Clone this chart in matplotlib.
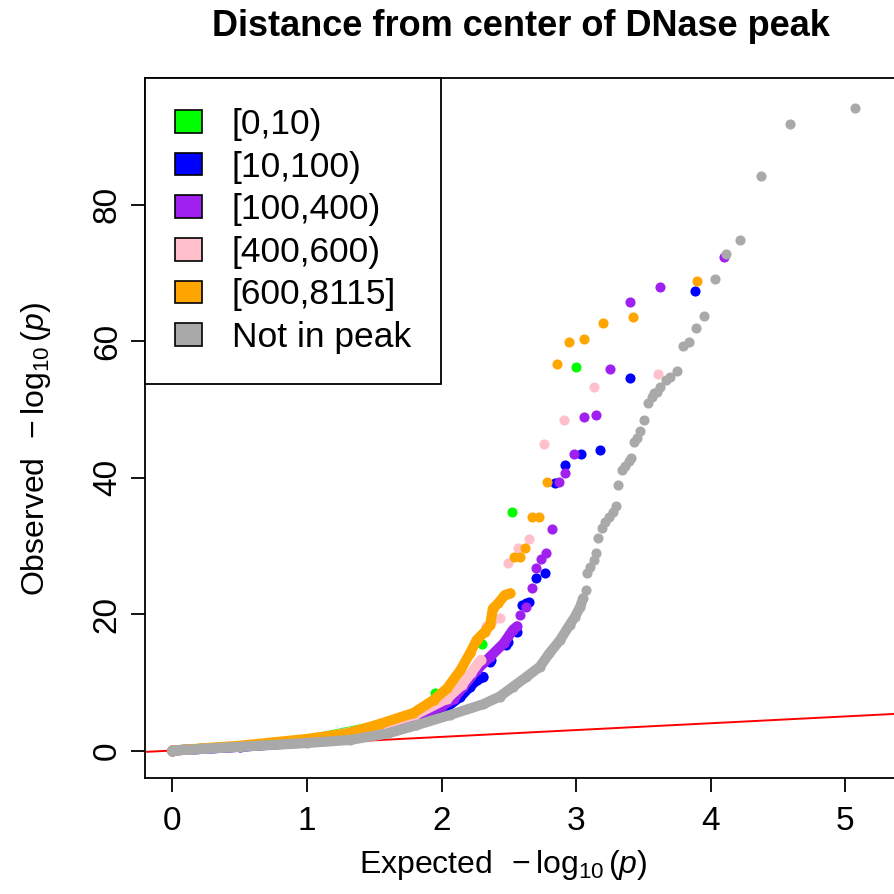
"""QQ plot of association p-values, split by distance from the centre of the DNase peak."""
import matplotlib
matplotlib.use("Agg")
import matplotlib.pyplot as plt
from matplotlib.patches import Patch

plt.rcParams["font.family"] = ["Liberation Sans", "DejaVu Sans"]
plt.rcParams["mathtext.fontset"] = "custom"
plt.rcParams["mathtext.rm"] = "Liberation Sans"
plt.rcParams["mathtext.it"] = "Liberation Sans:italic"

LABELS = ["[0,10)", "[10,100)", "[100,400)", "[400,600)", "[600,8115]", "Not in peak"]
COLORS = ["#00FF00", "#0000FF", "#A020F0", "#FFC0CB", "#FFA500", "#A9A9A9"]

# dense part of each curve (drawn as a band), then the sparse tail points
GREEN_BODY_X = [0.0, 0.5, 1.0, 1.5, 1.8]
GREEN_BODY_Y = [0.0, 0.6, 1.5, 3.5, 5.3]
GREEN_DOTS_X = [1.95, 2.30, 2.52, 3.0]
GREEN_DOTS_Y = [8.4, 15.6, 34.9, 56.3]

BLUE_BODY_X = [0.0, 0.5, 1.0, 1.5, 1.79, 1.91, 2.04, 2.14, 2.21, 2.26, 2.31]
BLUE_BODY_Y = [0.0, 0.55, 1.2, 2.7, 4.5, 5.45, 6.4, 7.9, 9.35, 10.3, 10.8]
BLUE_DOTS_X = [2.36, 2.37, 2.48, 2.49, 2.56, 2.60, 2.63, 2.65, 2.70, 2.765,
               2.84, 2.92, 3.035, 3.18, 3.40, 3.88]
BLUE_DOTS_Y = [13.0, 13.3, 15.5, 15.95, 17.4, 21.3, 21.6, 21.8, 25.3, 26.0,
               39.2, 41.9, 43.5, 44.1, 54.6, 67.3]

PURPLE_BODY_X = [0.0, 0.5, 1.0, 1.5, 1.8, 2.0, 2.09, 2.16, 2.26, 2.36, 2.46, 2.53, 2.56]
PURPLE_BODY_Y = [0.0, 0.55, 1.3, 3.0, 4.9, 6.5, 7.6, 9.35, 11.8, 13.75, 15.7, 17.7, 18.2]
PURPLE_DOTS_X = [2.58, 2.63, 2.67, 2.70, 2.74, 2.775, 2.82, 2.87, 2.92, 2.98,
                 3.055, 3.145, 3.25, 3.40, 3.62, 4.10]
PURPLE_DOTS_Y = [19.9, 21.1, 23.8, 26.8, 28.1, 29.0, 32.5, 39.3, 40.7, 43.4,
                 48.95, 49.15, 55.9, 65.8, 67.9, 72.4]

PINK_BODY_X = [0.0, 0.5, 1.0, 1.5, 1.8, 2.04, 2.15, 2.22, 2.29]
PINK_BODY_Y = [0.0, 0.6, 1.4, 3.4, 5.2, 7.6, 9.6, 11.4, 13.3]
PINK_DOTS_X = [2.33, 2.38, 2.43, 2.49, 2.565, 2.65, 2.76, 2.91, 3.13, 3.61]
PINK_DOTS_Y = [18.2, 19.2, 19.4, 27.5, 29.7, 31.0, 44.9, 48.4, 53.3, 55.2]

ORANGE_BODY_X = [0.0, 0.5, 1.0, 1.3, 1.54, 1.79, 1.94, 2.04, 2.14, 2.21, 2.26,
                 2.32, 2.36, 2.38, 2.42, 2.47, 2.51]
ORANGE_BODY_Y = [0.0, 0.7, 1.7, 2.5, 3.9, 5.5, 7.4, 9.1, 11.8, 14.25, 16.2,
                 17.4, 18.4, 20.8, 21.6, 22.8, 23.05]
ORANGE_DOTS_X = [2.54, 2.58, 2.62, 2.67, 2.725, 2.785, 2.86, 2.946, 3.055, 3.20, 3.42, 3.90]
ORANGE_DOTS_Y = [28.3, 28.4, 29.7, 34.2, 34.2, 39.4, 56.7, 59.85, 60.4, 62.7, 63.5, 68.8]

GRAY_BODY_X = [0.0, 0.5, 1.0, 1.32, 1.6, 1.81, 2.06, 2.31, 2.43, 2.53, 2.63,
               2.73, 2.80, 2.88, 2.95, 2.99, 3.03, 3.05]
GRAY_BODY_Y = [0.0, 0.55, 1.1, 1.55, 2.5, 3.7, 5.2, 6.8, 7.9, 9.35, 10.8,
               12.3, 14.25, 16.2, 18.4, 19.6, 21.1, 22.3]
GRAY_DOTS_X = [3.07, 3.08, 3.10, 3.13, 3.15, 3.165, 3.19, 3.21, 3.245, 3.27,
               3.295, 3.31, 3.34, 3.36, 3.395, 3.41, 3.43, 3.45, 3.475, 3.50,
               3.535, 3.565, 3.58, 3.60, 3.62, 3.67, 3.70, 3.75, 3.79, 3.835,
               3.89, 3.95, 4.03, 4.11, 4.22, 4.37, 4.59, 5.07]
GRAY_DOTS_Y = [23.6, 26.0, 26.95, 27.9, 29.0, 31.1, 32.6, 33.55, 34.3, 35.0,
               35.9, 38.9, 41.1, 41.7, 42.5, 42.9, 45.3, 45.8, 46.9, 48.4,
               50.9, 51.9, 52.4, 52.6, 53.25, 54.3, 54.7, 55.7, 59.35, 59.85,
               61.9, 63.7, 69.2, 72.75, 74.85, 84.3, 91.8, 94.25]

X_TICKS = [0, 1, 2, 3, 4, 5]
Y_TICKS = [0, 20, 40, 60, 80]

SERIES = [
    (GREEN_BODY_X, GREEN_BODY_Y, GREEN_DOTS_X, GREEN_DOTS_Y, COLORS[0]),
    (BLUE_BODY_X, BLUE_BODY_Y, BLUE_DOTS_X, BLUE_DOTS_Y, COLORS[1]),
    (PURPLE_BODY_X, PURPLE_BODY_Y, PURPLE_DOTS_X, PURPLE_DOTS_Y, COLORS[2]),
    (PINK_BODY_X, PINK_BODY_Y, PINK_DOTS_X, PINK_DOTS_Y, COLORS[3]),
    (ORANGE_BODY_X, ORANGE_BODY_Y, ORANGE_DOTS_X, ORANGE_DOTS_Y, COLORS[4]),
    (GRAY_BODY_X, GRAY_BODY_Y, GRAY_DOTS_X, GRAY_DOTS_Y, COLORS[5]),
]

DOT = 7.3  # marker diameter in points

fig = plt.figure(figsize=(8.95, 8.94), dpi=100)
ax = fig.add_axes([145 / 895, 116 / 894, 752 / 895, 700 / 894])

ax.axline((0, 0), slope=1, color="red", lw=1.4, zorder=1)

for i, (bx, by, dx, dy, color) in enumerate(SERIES):
    ax.plot(bx, by, "-o", color=color, lw=DOT, ms=DOT, mew=0,
            solid_capstyle="round", solid_joinstyle="round", zorder=2 + i)
    ax.plot(dx, dy, "o", color=color, ms=DOT, mew=0, zorder=2 + i)

ax.set_xlim(-0.204, 5.383)
ax.set_ylim(-4.03, 98.6)
ax.set_xticks(X_TICKS)
ax.set_yticks(Y_TICKS)
ax.tick_params(axis="both", labelsize=24, length=10, width=1.3, direction="out")
ax.tick_params(axis="x", pad=10)
ax.tick_params(axis="y", pad=6, labelrotation=90)
for lbl in ax.get_yticklabels():
    lbl.set_verticalalignment("center")
for spine in ax.spines.values():
    spine.set_linewidth(1.3)

ax.set_xlabel(r"Expected $\,-\log_{10}(p)$", fontsize=23)
ax.xaxis.set_label_coords(0.477, -0.1)
ax.set_ylabel(r"Observed $\,-\log_{10}(p)$", fontsize=23)
ax.yaxis.set_label_coords(-0.122, 0.47)
ax.set_title("Distance from center of DNase peak", fontsize=26, fontweight="bold", pad=30)

handles = [Patch(facecolor=c, edgecolor="black", lw=1.2) for c in COLORS]
leg = ax.legend(handles, LABELS, loc="upper left", bbox_to_anchor=(0, 1),
                borderaxespad=0, fontsize=25.5, frameon=True, fancybox=False,
                framealpha=1, edgecolor="black", borderpad=0.85,
                handlelength=0.75, handleheight=0.6, handletextpad=0.85,
                labelspacing=0.27)
leg.get_frame().set_linewidth(1.3)

fig.savefig("out.png", dpi=100)
